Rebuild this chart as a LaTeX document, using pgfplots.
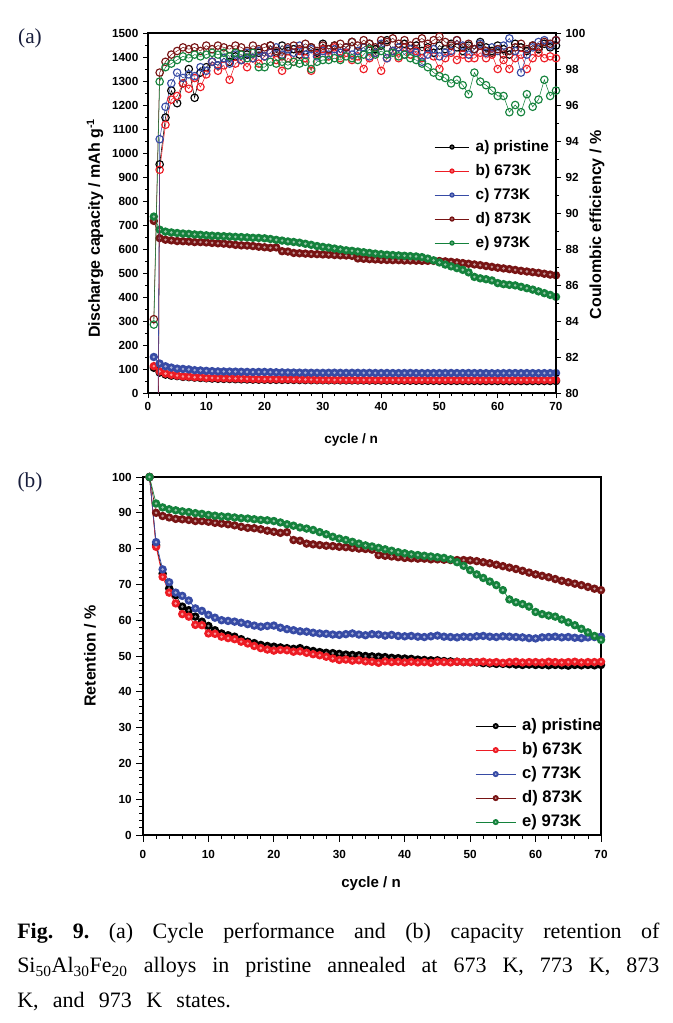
\documentclass[border=0pt]{standalone}
\usepackage{pgfplots}
\pgfplotsset{compat=1.18}
\usepackage{pgfplotstable}
\usepackage{fontspec}
\setmainfont{Liberation Serif}
\newfontfamily\axfont{Liberation Sans}
\definecolor{myred}{RGB}{237,28,36}
\definecolor{myblue}{RGB}{55,75,165}
\definecolor{mydred}{RGB}{120,20,20}
\definecolor{mygreen}{RGB}{20,130,60}
\definecolor{labcol}{RGB}{25,30,60}
\newcommand\tickfont{\axfont\bfseries\fontsize{8.8}{10}\selectfont}
\newcommand\labfont{\axfont\bfseries\fontsize{12}{14}\selectfont}
\newcommand\xlabfontA{\axfont\bfseries\fontsize{10.2}{12}\selectfont}
\newcommand\xlabfontB{\axfont\bfseries\fontsize{11.3}{13}\selectfont}
\newcommand\legfontA{\axfont\bfseries\fontsize{11.5}{13}\selectfont}
\newcommand\legfontB{\axfont\bfseries\fontsize{12.5}{14}\selectfont}
\pgfdeclareplotmark{dotball}{%
  \pgfpathcircle{\pgfpointorigin}{\pgfplotmarksize}%
  \pgfusepathqfill
  \begin{pgfscope}%
  \pgfsetfillcolor{white}\pgfsetfillopacity{0.55}%
  \pgfpathcircle{\pgfpointorigin}{0.33\pgfplotmarksize}%
  \pgfusepathqfill
  \end{pgfscope}}

% columns: cycle, discharge capacity (mAh/g), coulombic efficiency (%), retention (%)
\pgfplotstableread{
c cap ce ret
1 105 30 100
2 85.1 92.7 81.0
3 76.7 95.3 73.0
4 72.3 96.8 68.9
5 70.4 96.1 67.0
6 67.0 97.2 63.8
7 65.9 98.0 62.8
8 64.1 96.4 61.0
9 62.6 97.8 59.6
10 61.3 98.1 58.4
11 60.1 98.4 57.2
12 59.1 98.2 56.3
13 58.6 98.6 55.8
14 58.2 98.4 55.4
15 57.4 98.7 54.7
16 56.7 98.5 54.0
17 56.3 98.8 53.6
18 55.8 98.6 53.1
19 55.4 98.9 52.8
20 55.2 98.7 52.6
21 55.0 99.3 52.4
22 54.8 98.9 52.2
23 54.6 99.3 52.0
24 54.8 99.0 52.2
25 54.3 99.1 51.7
26 54.0 98.8 51.4
27 53.7 99.0 51.1
28 53.4 99.2 50.9
29 53.3 98.9 50.8
30 53.1 99.4 50.6
31 52.9 99.1 50.4
32 52.8 99.3 50.3
33 52.7 98.9 50.2
34 52.5 99.2 50.0
35 52.4 99.5 49.9
36 52.3 99.0 49.8
37 52.2 99.2 49.7
38 52.0 99.4 49.5
39 51.9 99.1 49.4
40 51.8 99.3 49.3
41 51.7 99.6 49.2
42 51.5 99.0 49.0
43 51.3 99.2 48.9
44 51.2 99.4 48.8
45 51.2 99.1 48.8
46 51.0 99.3 48.6
47 50.9 99.0 48.5
48 50.8 99.2 48.4
49 50.7 98.9 48.3
50 50.7 99.3 48.3
51 50.6 99.1 48.2
52 50.4 99.4 48.0
53 50.3 99.2 47.9
54 50.2 99.0 47.8
55 50.2 99.3 47.8
56 50.1 99.1 47.7
57 50.0 99.5 47.6
58 49.9 99.2 47.5
59 50.0 99.0 47.6
60 49.9 99.3 47.5
61 49.9 99.1 47.5
62 49.8 98.8 47.4
63 49.9 99.4 47.5
64 49.8 99.2 47.4
65 49.7 99.0 47.3
66 49.9 99.3 47.5
67 49.8 99.1 47.4
68 49.9 99.4 47.5
69 49.8 99.2 47.4
70 49.9 99.3 47.5
}\tA

\pgfplotstableread{
c cap ce ret
1 112 35 100
2 90.2 92.4 80.5
3 80.8 94.9 72.1
4 75.8 96.3 67.7
5 72.5 96.5 64.7
6 69.1 97.2 61.7
7 68.3 96.9 61.0
8 65.7 97.5 58.7
9 65.6 97.0 58.6
10 63.1 97.7 56.3
11 62.9 98.4 56.2
12 62.0 97.9 55.4
13 61.6 98.2 55.0
14 61.3 97.4 54.7
15 60.5 98.3 54.0
16 59.9 98.5 53.5
17 59.1 98.1 52.8
18 58.5 98.6 52.2
19 58.0 98.3 51.8
20 57.7 98.7 51.5
21 57.9 98.9 51.7
22 57.8 98.5 51.6
23 57.3 97.9 51.2
24 57.5 98.6 51.3
25 57.0 98.4 50.9
26 56.6 99.0 50.5
27 56.2 98.6 50.2
28 55.8 97.9 49.8
29 55.2 98.8 49.3
30 54.8 99.1 48.9
31 54.9 98.7 49.0
32 54.5 99.2 48.7
33 54.7 98.6 48.8
34 54.3 98.9 48.5
35 54.2 98.5 48.4
36 53.9 98.7 48.1
37 54.3 98.0 48.5
38 54.1 98.6 48.3
39 54.2 98.9 48.4
40 54.0 97.9 48.2
41 54.2 98.6 48.4
42 54.0 99.0 48.2
43 54.1 98.6 48.3
44 53.9 99.2 48.1
45 54.2 98.8 48.4
46 54.1 99.0 48.3
47 54.0 98.6 48.2
48 54.2 99.1 48.4
49 54.1 98.7 48.3
50 54.0 98.0 48.2
51 54.1 98.6 48.3
52 54.2 98.9 48.4
53 54.0 98.5 48.2
54 54.1 98.8 48.3
55 53.9 98.6 48.1
56 54.1 98.6 48.3
57 54.2 98.9 48.4
58 54.0 98.6 48.2
59 54.1 98.8 48.3
60 54.1 98.0 48.3
61 54.0 98.5 48.2
62 54.2 98.0 48.4
63 54.1 98.6 48.3
64 54.0 98.8 48.2
65 54.1 98.0 48.3
66 54.2 98.6 48.4
67 54.0 98.9 48.2
68 54.1 98.6 48.3
69 54.1 98.7 48.3
70 54.2 98.6 48.4
}\tB

\pgfplotstableread{
c cap ce ret
1 150 40 100
2 122.7 94.1 81.8
3 111.3 95.9 74.2
4 105.9 97.2 70.6
5 101.6 97.8 67.7
6 100.2 97.5 66.8
7 98.3 97.7 65.5
8 95.0 97.6 63.3
9 93.9 98.1 62.6
10 92.3 97.9 61.5
11 91.1 98.4 60.7
12 90.0 98.2 60.0
13 89.7 98.6 59.8
14 89.4 98.3 59.6
15 89.0 98.8 59.3
16 88.4 98.5 58.9
17 87.8 98.9 58.5
18 87.3 98.6 58.2
19 87.6 99.0 58.4
20 87.8 98.7 58.5
21 86.9 98.9 57.9
22 86.3 99.2 57.5
23 85.8 98.8 57.2
24 85.4 99.1 56.9
25 85.2 98.9 56.8
26 84.8 99.3 56.5
27 84.5 98.8 56.3
28 84.3 99.1 56.2
29 84.0 98.7 56.0
30 83.9 99.0 55.9
31 84.2 98.8 56.1
32 84.5 99.1 56.3
33 84.0 98.9 56.0
34 83.7 99.2 55.8
35 84.2 98.8 56.1
36 84.0 99.0 56.0
37 83.6 99.2 55.7
38 83.9 98.7 55.9
39 83.4 98.9 55.6
40 83.3 99.4 55.5
41 83.4 98.6 55.6
42 83.1 99.0 55.4
43 83.0 99.2 55.3
44 83.3 98.8 55.5
45 83.6 99.1 55.7
46 83.1 98.9 55.4
47 83.0 98.4 55.3
48 82.8 98.8 55.2
49 83.1 99.1 55.4
50 83.0 98.7 55.3
51 83.3 98.9 55.5
52 83.4 99.0 55.6
53 83.1 99.6 55.4
54 83.0 99.3 55.3
55 83.3 98.8 55.5
56 83.1 99.1 55.4
57 83.0 99.4 55.3
58 82.8 98.9 55.2
59 82.5 99.2 55.0
60 82.4 99.0 54.9
61 82.8 99.3 55.2
62 83.0 99.7 55.3
63 83.1 99.0 55.4
64 82.8 97.8 55.2
65 83.0 98.8 55.3
66 82.7 99.2 55.1
67 82.5 99.5 55.0
68 82.8 99.6 55.2
69 83.0 99.3 55.3
70 83.1 99.6 55.4
}\tC

\pgfplotstableread{
c cap ce ret
1 717 84.1 100
2 645.3 97.8 90.0
3 638.8 98.4 89.1
4 636.0 98.8 88.7
5 633.1 99.0 88.3
6 632.4 99.2 88.2
7 631.0 99.1 88.0
8 628.8 99.2 87.7
9 628.8 99.0 87.7
10 627.4 99.3 87.5
11 625.2 99.1 87.2
12 623.8 99.3 87.0
13 622.4 99.2 86.8
14 620.2 99.1 86.5
15 617.3 99.3 86.1
16 615.2 99.2 85.8
17 614.5 99.0 85.7
18 612.3 99.3 85.4
19 609.5 99.1 85.0
20 607.3 99.2 84.7
21 605.1 99.3 84.4
22 606.6 99.0 84.6
23 590.8 98.7 82.4
24 589.4 99.2 82.2
25 583.6 99.3 81.4
26 582.2 99.1 81.2
27 580.8 99.4 81.0
28 579.3 99.2 80.8
29 578.6 99.0 80.7
30 577.2 99.3 80.5
31 576.5 99.1 80.4
32 575.0 99.3 80.2
33 573.6 99.4 80.0
34 572.9 99.2 79.9
35 571.4 99.5 79.7
36 560.7 99.3 78.2
37 559.3 99.6 78.0
38 557.8 99.4 77.8
39 556.4 99.2 77.6
40 555.0 99.6 77.4
41 554.2 99.5 77.3
42 553.5 99.7 77.2
43 553.5 99.4 77.2
44 552.1 99.6 77.0
45 552.1 99.3 77.0
46 551.4 99.5 76.9
47 550.7 99.7 76.8
48 550.7 99.4 76.8
49 550.7 99.6 76.8
50 549.9 99.8 76.7
51 548.5 99.5 76.5
52 546.4 99.3 76.2
53 544.2 99.6 75.9
54 541.3 99.2 75.5
55 538.5 99.4 75.1
56 535.6 99.1 74.7
57 532.7 99.3 74.3
58 529.1 99.0 73.8
59 525.6 98.9 73.3
60 522.0 99.1 72.8
61 519.1 98.8 72.4
62 516.2 99.0 72.0
63 512.7 99.2 71.5
64 509.1 99.4 71.0
65 506.2 99.1 70.6
66 503.3 99.3 70.2
67 500.5 99.2 69.8
68 496.9 99.5 69.3
69 493.3 99.4 68.8
70 490.4 99.6 68.4
}\tD

\pgfplotstableread{
c cap ce ret
1 735 83.8 100
2 680.6 97.3 92.6
3 672.5 98.1 91.5
4 668.9 98.3 91.0
5 666.6 98.5 90.7
6 664.4 98.7 90.4
7 663.0 98.6 90.2
8 660.8 98.8 89.9
9 659.3 98.7 89.7
10 657.1 98.8 89.4
11 655.6 98.9 89.2
12 654.2 98.8 89.0
13 653.4 98.9 88.9
14 652.0 98.7 88.7
15 650.5 98.9 88.5
16 649.7 98.8 88.4
17 648.3 98.6 88.2
18 646.8 98.9 88.0
19 646.1 98.1 87.9
20 644.6 98.1 87.7
21 641.7 98.4 87.3
22 638.0 98.3 86.8
23 635.0 98.4 86.4
24 631.4 98.2 85.9
25 629.2 98.4 85.6
26 626.2 98.3 85.2
27 621.8 98.4 84.6
28 617.4 98.0 84.0
29 612.3 98.4 83.3
30 608.6 98.5 82.8
31 605.6 98.5 82.4
32 602.0 98.6 81.9
33 598.3 98.5 81.4
34 594.6 98.7 80.9
35 592.4 98.6 80.6
36 589.5 98.5 80.2
37 586.5 98.8 79.8
38 583.6 99.1 79.4
39 580.7 98.8 79.0
40 578.4 99.0 78.7
41 576.2 98.8 78.4
42 574.8 98.9 78.2
43 573.3 98.7 78.0
44 571.8 98.8 77.8
45 570.4 98.6 77.6
46 568.9 98.5 77.4
47 566.0 98.3 77.0
48 560.1 98.1 76.2
49 552.7 97.8 75.2
50 543.9 97.6 74.0
51 535.1 97.5 72.8
52 527.7 97.2 71.8
53 520.4 97.4 70.8
54 513.0 97.1 69.8
55 502.7 96.6 68.4
56 483.6 97.8 65.8
57 477.8 97.3 65.0
58 474.1 97.1 64.5
59 468.9 96.8 63.8
60 457.9 96.5 62.3
61 453.5 96.5 61.7
62 450.6 95.6 61.3
63 448.4 96.0 61.0
64 442.5 95.6 60.2
65 436.6 96.6 59.4
66 430.7 95.9 58.6
67 423.4 96.3 57.6
68 416.0 97.4 56.6
69 408.7 96.5 55.6
70 400.6 96.8 54.5
}\tE

\pgfplotsset{
  common/.style={
    scale only axis, xmin=0, xmax=70,
    xtick={0,10,...,70}, minor x tick num=4,
    tick align=outside,
    axis line style={line width=0.8pt},
    every tick/.style={black, line width=0.6pt},
    tick label style={font=\tickfont},
    /pgf/number format/assume math mode=true,
    /pgf/number format/1000 sep={},
  },
  capstyle/.style={color=#1, line width=0.5pt, mark=dotball, mark size=3.2pt},
  cestyle/.style={color=#1, line width=0.4pt, mark=o, mark size=2.8pt, mark options={line width=0.85pt}},
}

\begin{document}
\begin{tikzpicture}
\useasboundingbox (0,0) rectangle (504pt,-767.25pt);

% ---------- panel (a): discharge capacity ----------
\begin{axis}[common,
  at={(111pt,-294.75pt)}, anchor=south west,
  width=306pt, height=270pt,
  ymin=0, ymax=1500, ytick={0,100,...,1500}, minor y tick num=1,
  xtick pos=bottom, ytick pos=left,
  major tick length=3.75pt, minor tick length=2.25pt,
  xlabel={cycle / n},
  ylabel={Discharge capacity / mAh g\textsuperscript{-1}},
  xlabel style={font=\xlabfontA, at={(axis description cs:0.498,-0.131)}, anchor=center},
  ylabel style={font=\labfont, at={(axis description cs:-0.13,0.458)}, anchor=center},
  legend cell align=left,
  legend style={at={(rel axis cs:0.701,0.708)}, anchor=north west, draw=none, fill=none,
    font=\legfontA, row sep=5pt, inner sep=0pt,
    nodes={inner sep=1pt, text height=8.5pt, text depth=2.5pt},
    /tikz/every odd column/.append style={column sep=3.5pt}},
  legend image code/.code={
    \draw[#1, line width=0.6pt] (0pt,0pt) -- (26pt,0pt);
    \draw[#1, mark size=2pt] plot coordinates {(13pt,0pt)};
  },
]
\addplot[capstyle=black] table[x=c,y=cap]{\tA};
\addlegendentry{a) pristine}
\addplot[capstyle=myred] table[x=c,y=cap]{\tB};
\addlegendentry{b) 673K}
\addplot[capstyle=myblue] table[x=c,y=cap]{\tC};
\addlegendentry{c) 773K}
\addplot[capstyle=mydred] table[x=c,y=cap]{\tD};
\addlegendentry{d) 873K}
\addplot[capstyle=mygreen] table[x=c,y=cap]{\tE};
\addlegendentry{e) 973K}
\end{axis}

% ---------- panel (a): coulombic efficiency ----------
\begin{axis}[common,
  at={(111pt,-294.75pt)}, anchor=south west,
  width=306pt, height=270pt,
  axis x line=none, axis y line*=right,
  ymin=80, ymax=100, ytick={80,82,...,100}, minor y tick num=1,
  major tick length=3.75pt, minor tick length=2.25pt,
  ylabel={Coulombic efficiency / \%},
  ylabel style={font=\labfont, at={(axis description cs:1.1005,0.467)}, anchor=center, rotate=0},
]
\addplot[cestyle=black] table[x=c,y=ce]{\tA};
\addplot[cestyle=myred] table[x=c,y=ce]{\tB};
\addplot[cestyle=myblue] table[x=c,y=ce]{\tC};
\addplot[cestyle=mydred] table[x=c,y=ce]{\tD};
\addplot[cestyle=mygreen] table[x=c,y=ce]{\tE};
\end{axis}

% ---------- panel (b): retention ----------
\begin{axis}[common,
  at={(107.25pt,-626.25pt)}, anchor=south west,
  width=343.5pt, height=268.5pt,
  ymin=0, ymax=100, ytick={0,10,...,100}, minor y tick num=4,
  xtick pos=bottom, ytick pos=left,
  major tick length=5pt, minor tick length=3pt,
  xticklabel style={yshift=-3pt},
  xlabel={cycle / n},
  ylabel={Retention / \%},
  xlabel style={font=\xlabfontB, at={(axis description cs:0.498,-0.137)}, anchor=center},
  ylabel style={font=\labfont, at={(axis description cs:-0.116,0.5)}, anchor=center},
  legend cell align=left,
  legend style={at={(rel axis cs:0.725,0.332)}, anchor=north west, draw=none, fill=none,
    font=\legfontB, row sep=3.5pt, inner sep=0pt,
    nodes={inner sep=1pt, text height=9.5pt, text depth=3pt},
    /tikz/every odd column/.append style={column sep=3.5pt}},
  legend image code/.code={
    \draw[#1, line width=0.6pt] (0pt,0pt) -- (30pt,0pt);
    \draw[#1, mark size=2.3pt] plot coordinates {(15pt,0pt)};
  },
]
\addplot[capstyle=black] table[x=c,y=ret]{\tA};
\addlegendentry{a) pristine}
\addplot[capstyle=myred] table[x=c,y=ret]{\tB};
\addlegendentry{b) 673K}
\addplot[capstyle=myblue] table[x=c,y=ret]{\tC};
\addlegendentry{c) 773K}
\addplot[capstyle=mydred] table[x=c,y=ret]{\tD};
\addlegendentry{d) 873K}
\addplot[capstyle=mygreen] table[x=c,y=ret]{\tE};
\addlegendentry{e) 973K}
\end{axis}

% ---------- panel letters and caption ----------
\node[font=\fontsize{16}{18}\selectfont, text=labcol, inner sep=0pt] at (22.5pt,-28.5pt) {(a)};
\node[font=\fontsize{16}{18}\selectfont, text=labcol, inner sep=0pt] at (22.5pt,-361.5pt) {(b)};
\node[anchor=base west, inner sep=0pt] at (12.75pt,-703.7pt) {\parbox[t]{481.5pt}{%
  \fontsize{16.5}{25.9}\selectfont\spaceskip=0.65em plus 3em minus 0.1em\xspaceskip=\spaceskip
  \textbf{Fig. 9.} (a) Cycle performance and (b) capacity retention of\linebreak
  Si\textsubscript{50}Al\textsubscript{30}Fe\textsubscript{20} alloys in pristine annealed at 673 K, 773 K, 873\linebreak
  K, and 973 K states.}};
\end{tikzpicture}
\end{document}
